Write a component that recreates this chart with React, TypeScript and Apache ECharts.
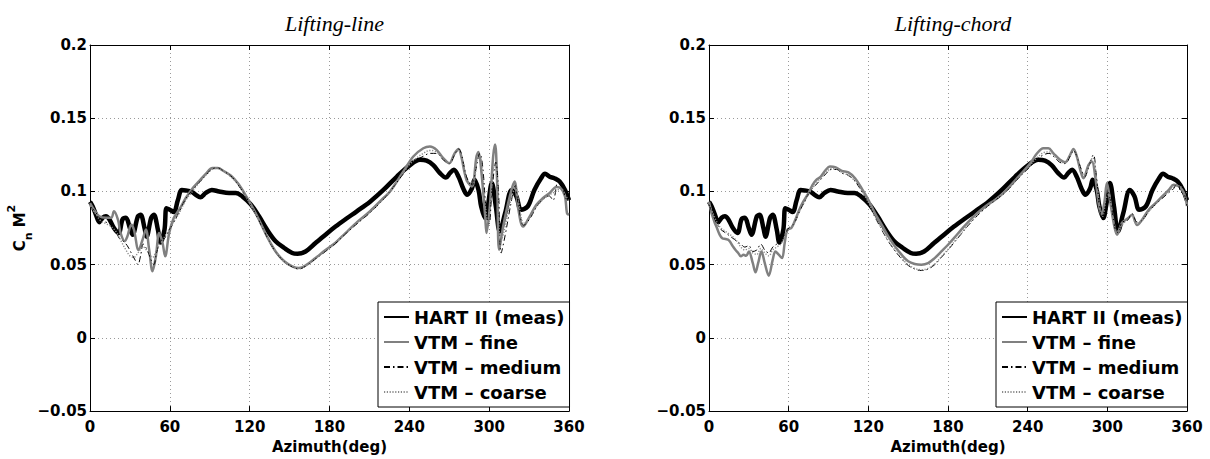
import React, { useEffect, useRef } from "react";
import * as echarts from "echarts";

// ---------- data (azimuth in deg, Cn*M^2) ----------
const HART_AZ = [0, 2, 4.5, 7, 9.5, 12, 14.5, 18, 21.5, 24.5, 27, 30, 32, 36, 38, 41, 42.5, 46, 48, 51, 53, 56, 57.5, 60, 63, 66, 69, 72, 76, 79.5, 83, 87, 91.5, 97, 104.5, 109.5, 114.5, 121, 127, 133, 139.5, 146, 152, 156, 162, 169.5, 177, 184.5, 192, 200.5, 210.5, 220.5, 230.5, 240.5, 248, 253, 258, 263, 267.5, 270.5, 273.5, 277, 280.5, 283.5, 287, 289, 292, 294, 297, 299, 302, 305, 308, 312, 317, 320.5, 324, 329, 334, 339, 342, 345.5, 349, 353, 357, 360];
const HART_CN = [0.093, 0.0898, 0.084, 0.079, 0.082, 0.083, 0.081, 0.075, 0.0716, 0.081, 0.082, 0.075, 0.0705, 0.083, 0.084, 0.075, 0.069, 0.082, 0.084, 0.074, 0.065, 0.074, 0.0886, 0.0875, 0.086, 0.094, 0.101, 0.1007, 0.1, 0.0977, 0.096, 0.099, 0.101, 0.1, 0.099, 0.099, 0.0966, 0.091, 0.083, 0.074, 0.066, 0.0614, 0.058, 0.0575, 0.059, 0.0648, 0.0705, 0.076, 0.081, 0.0864, 0.093, 0.101, 0.11, 0.118, 0.1216, 0.121, 0.118, 0.1125, 0.1095, 0.1125, 0.1148, 0.11, 0.102, 0.0977, 0.102, 0.108, 0.101, 0.0898, 0.0818, 0.0898, 0.1057, 0.0898, 0.0727, 0.0852, 0.101, 0.0966, 0.0875, 0.0898, 0.101, 0.109, 0.112, 0.11, 0.109, 0.1068, 0.101, 0.094];

// Lifting-line
const LL_FINE_AZ = [0, 3, 7, 12, 16, 18, 21, 23, 26, 28, 31, 33, 36.5, 39.5, 42, 44.5, 47, 49.5, 52, 54.5, 56.5, 59.5, 63, 67, 72, 77, 82, 87, 92, 96, 101, 106, 111, 116, 121, 127, 133, 139.5, 146, 152, 157, 163, 169.5, 177, 184.5, 192, 199.5, 210.5, 220, 225.5, 235.5, 243, 250.5, 255.5, 260.5, 265.5, 270, 274, 277, 279, 283, 287, 290.5, 292, 294, 297, 298, 300.5, 303, 304.5, 306, 307.5, 310.5, 315.5, 319, 322, 325.5, 330.5, 335.5, 340.5, 345.5, 350.5, 354, 357, 358.5, 360];
const LL_FINE_CN = [0.092, 0.0875, 0.083, 0.082, 0.082, 0.0864, 0.0807, 0.0716, 0.066, 0.069, 0.0773, 0.074, 0.06, 0.067, 0.074, 0.06, 0.0455, 0.0557, 0.0716, 0.065, 0.0557, 0.0716, 0.082, 0.0875, 0.0955, 0.102, 0.107, 0.112, 0.116, 0.116, 0.1136, 0.1107, 0.1057, 0.0989, 0.091, 0.0807, 0.0693, 0.059, 0.0523, 0.0489, 0.0477, 0.05, 0.0545, 0.06, 0.065, 0.0715, 0.078, 0.0865, 0.095, 0.1, 0.1136, 0.1239, 0.1295, 0.1307, 0.1284, 0.1227, 0.1193, 0.126, 0.129, 0.124, 0.108, 0.1034, 0.124, 0.127, 0.1148, 0.083, 0.0716, 0.0898, 0.124, 0.132, 0.1057, 0.06, 0.076, 0.0966, 0.1068, 0.0875, 0.076, 0.083, 0.091, 0.0955, 0.0989, 0.103, 0.102, 0.0966, 0.0852, 0.084];

const LL_MED_AZ = [0, 4, 8, 12, 16, 19, 22, 25, 28, 31, 34, 36, 38, 40, 43, 46, 48, 50, 53, 56, 59, 63, 67, 72, 77, 82, 87, 92, 96, 101, 106, 111, 116, 121, 127, 133, 139.5, 146, 152, 157, 163, 169.5, 177, 184.5, 192, 199.5, 210.5, 220, 225.5, 235.5, 243, 250.5, 255.5, 260.5, 265.5, 270, 274, 277, 279, 283, 287, 290, 293, 295, 298, 300, 302, 305, 307, 309, 312, 316, 319.5, 322, 326, 331, 336, 341, 345, 348, 352, 355, 358, 360];
const LL_MED_CN = [0.09, 0.086, 0.081, 0.079, 0.078, 0.074, 0.068, 0.066, 0.063, 0.058, 0.053, 0.05, 0.056, 0.064, 0.06, 0.053, 0.05, 0.058, 0.066, 0.068, 0.073, 0.079, 0.086, 0.095, 0.101, 0.106, 0.111, 0.1155, 0.116, 0.1135, 0.1105, 0.105, 0.098, 0.0905, 0.08, 0.069, 0.0585, 0.052, 0.0485, 0.047, 0.0495, 0.054, 0.059, 0.0645, 0.071, 0.077, 0.0855, 0.094, 0.1, 0.112, 0.12, 0.124, 0.126, 0.126, 0.1215, 0.119, 0.125, 0.129, 0.126, 0.11, 0.104, 0.115, 0.126, 0.118, 0.085, 0.078, 0.1, 0.12, 0.1, 0.058, 0.07, 0.09, 0.104, 0.09, 0.077, 0.082, 0.09, 0.095, 0.097, 0.094, 0.108, 0.104, 0.095, 0.095];

const LL_COARSE_AZ = [0, 4, 8, 12, 16, 20, 24, 27, 30, 33, 36, 40, 44, 47, 50, 54, 58, 62, 67, 72, 77, 82, 87, 92, 96, 101, 106, 111, 116, 121, 127, 133, 139.5, 146, 152, 157, 163, 169.5, 177, 184.5, 192, 199.5, 210.5, 220, 225.5, 235.5, 243, 250.5, 255.5, 260.5, 265.5, 270, 274, 277, 280, 284, 288, 291, 293, 296, 299, 301, 304, 306, 308.5, 311, 316, 320, 323, 326, 331, 336, 341, 346, 350, 354, 357, 360];
const LL_COARSE_CN = [0.09, 0.085, 0.08, 0.078, 0.076, 0.072, 0.065, 0.06, 0.056, 0.055, 0.058, 0.062, 0.058, 0.055, 0.06, 0.066, 0.072, 0.078, 0.085, 0.094, 0.1, 0.106, 0.111, 0.115, 0.1158, 0.1135, 0.11, 0.1052, 0.0985, 0.0905, 0.0802, 0.069, 0.0588, 0.052, 0.0487, 0.0475, 0.0498, 0.0543, 0.0598, 0.0652, 0.0715, 0.0778, 0.086, 0.0945, 0.1, 0.113, 0.121, 0.126, 0.128, 0.127, 0.122, 0.119, 0.125, 0.128, 0.122, 0.106, 0.106, 0.122, 0.124, 0.1, 0.08, 0.095, 0.118, 0.11, 0.065, 0.072, 0.093, 0.103, 0.088, 0.078, 0.083, 0.09, 0.095, 0.098, 0.1, 0.102, 0.098, 0.093];

// Lifting-chord
const LC_FINE_AZ = [0, 2, 4, 6, 8, 10, 12.5, 15, 18, 20, 22, 24, 26, 28, 30, 33, 35, 37, 39.5, 42, 45, 48, 50, 52.5, 55, 57, 59, 62, 65, 68, 71, 75, 78, 81, 84, 88, 91, 95, 100, 105, 110, 115, 120, 125, 130, 135, 140, 145, 150, 155, 160, 165, 170, 175, 180, 185, 190, 195, 200, 205, 210, 215, 220, 224, 234, 241.8, 246.8, 251.8, 255.6, 259.4, 264.4, 268.2, 272, 274.5, 277, 279.6, 282, 285.8, 288.4, 290.9, 293.4, 295.5, 297.7, 299.7, 302.3, 305.3, 307.3, 311, 316, 318.6, 322.4, 326.2, 331.2, 336.3, 341.3, 346.3, 350, 354, 357.7, 360];
const LC_FINE_CN = [0.093, 0.085, 0.0795, 0.075, 0.0705, 0.068, 0.0675, 0.0666, 0.0625, 0.06, 0.058, 0.0557, 0.0568, 0.056, 0.059, 0.051, 0.0448, 0.051, 0.059, 0.051, 0.0425, 0.0534, 0.059, 0.0568, 0.0545, 0.0648, 0.0739, 0.075, 0.0807, 0.0875, 0.093, 0.0989, 0.1045, 0.108, 0.11, 0.1148, 0.117, 0.1166, 0.114, 0.113, 0.109, 0.102, 0.0943, 0.085, 0.0773, 0.0693, 0.0625, 0.0568, 0.0523, 0.0505, 0.05, 0.0511, 0.0545, 0.059, 0.0636, 0.0686, 0.0739, 0.0789, 0.0835, 0.0875, 0.091, 0.094, 0.0975, 0.101, 0.111, 0.119, 0.1257, 0.1295, 0.1295, 0.126, 0.1216, 0.12, 0.125, 0.129, 0.124, 0.1148, 0.109, 0.118, 0.1205, 0.11, 0.092, 0.084, 0.092, 0.1057, 0.092, 0.076, 0.0705, 0.0784, 0.082, 0.084, 0.077, 0.0807, 0.0875, 0.092, 0.0966, 0.101, 0.1045, 0.1034, 0.0989, 0.09];

const LC_MED_AZ = [0, 3, 6, 9, 12, 15, 18, 21, 24, 27, 30, 33, 36, 39, 42, 45, 48, 51, 54, 57, 60, 64, 68, 72, 76, 80, 84, 88, 92, 96, 100, 105, 110, 115, 120, 125, 130, 135, 140, 145, 150, 155, 160, 165, 170, 175, 180, 185, 190, 195, 200, 205, 210, 215, 220, 224, 234, 242, 247, 252, 256, 260, 264, 268, 272, 274.5, 277, 280, 283, 286, 289.5, 291.5, 294, 296, 298.5, 300.5, 303, 306, 308, 311, 315, 318.5, 322.5, 326, 331, 336, 341, 346, 350, 353, 355, 358, 360];
const LC_MED_CN = [0.091, 0.084, 0.078, 0.074, 0.072, 0.07, 0.068, 0.066, 0.064, 0.062, 0.063, 0.059, 0.06, 0.064, 0.06, 0.058, 0.062, 0.064, 0.065, 0.07, 0.075, 0.078, 0.086, 0.093, 0.1, 0.104, 0.108, 0.112, 0.115, 0.115, 0.1125, 0.111, 0.107, 0.1, 0.092, 0.0825, 0.074, 0.066, 0.0595, 0.054, 0.0495, 0.047, 0.046, 0.047, 0.05, 0.055, 0.06, 0.0655, 0.071, 0.0765, 0.0815, 0.086, 0.09, 0.0935, 0.097, 0.1, 0.11, 0.117, 0.122, 0.125, 0.126, 0.1235, 0.12, 0.119, 0.124, 0.128, 0.124, 0.116, 0.11, 0.117, 0.125, 0.113, 0.09, 0.082, 0.09, 0.1, 0.09, 0.074, 0.072, 0.079, 0.08, 0.085, 0.079, 0.08, 0.086, 0.091, 0.095, 0.099, 0.102, 0.107, 0.1, 0.098, 0.09];

const LC_COARSE_AZ = [0, 3, 6, 9, 12, 15, 18, 21, 24, 27, 30, 33, 36, 39, 42, 45, 48, 51, 54, 57, 60, 64, 68, 72, 76, 80, 84, 88, 92, 96, 100, 105, 110, 115, 120, 125, 130, 135, 140, 145, 150, 155, 160, 165, 170, 175, 180, 185, 190, 195, 200, 205, 210, 215, 220, 224, 234, 242, 247, 252, 256, 260, 264, 268, 272, 274.5, 277, 280, 283, 286, 289, 292, 294.5, 296.5, 299, 301, 304, 307, 310, 314, 318, 322, 326, 331, 336, 341, 346, 350, 354, 358, 360];
const LC_COARSE_CN = [0.092, 0.085, 0.079, 0.075, 0.073, 0.071, 0.069, 0.066, 0.062, 0.06, 0.061, 0.058, 0.057, 0.061, 0.058, 0.056, 0.06, 0.062, 0.064, 0.069, 0.074, 0.078, 0.086, 0.093, 0.1, 0.105, 0.109, 0.113, 0.1155, 0.1155, 0.113, 0.111, 0.107, 0.1005, 0.0925, 0.083, 0.0745, 0.0665, 0.06, 0.0545, 0.05, 0.0475, 0.0465, 0.0475, 0.0505, 0.0555, 0.0605, 0.066, 0.0715, 0.077, 0.082, 0.0865, 0.0905, 0.094, 0.0975, 0.1005, 0.1105, 0.118, 0.123, 0.1265, 0.127, 0.1245, 0.121, 0.1195, 0.1245, 0.1285, 0.1245, 0.115, 0.11, 0.118, 0.123, 0.108, 0.088, 0.083, 0.095, 0.098, 0.082, 0.072, 0.076, 0.08, 0.084, 0.078, 0.08, 0.086, 0.091, 0.096, 0.1, 0.103, 0.104, 0.097, 0.091];

const SERIES_NAMES = ["HART II (meas)", "VTM \u2013 fine", "VTM \u2013 medium", "VTM \u2013 coarse"];
const TITLES = ["Lifting-line", "Lifting-chord"];
const X_NAME = "Azimuth(deg)";

const zip = (a: number[], b: number[]) => a.map((x, i) => [x, b[i]]);

const FONT = "DejaVu Sans";
const GRID_POS = [
  { left: 90, top: 45, width: 479, height: 367 },
  { left: 709, top: 45, width: 478, height: 367 },
];
const LEGEND_POS = [{ left: 378, top: 302 }, { left: 996, top: 302 }];

const LINE_STYLES: any[] = [
  { color: "#000000", width: 4.5, type: "solid" },
  { color: "#808080", width: 2.5, type: "solid" },
  { color: "#000000", width: 1, type: [6, 3, 1.5, 3] },
  { color: "#8c8c8c", width: 1.4, type: [1.2, 1.6] },
];

function yFmt(v: number) {
  const r = Math.round(v * 100) / 100;
  if (r === 0) return "0";
  return String(r).replace("-", "\u2212");
}

export default function App() {
  const ref = useRef<HTMLDivElement>(null);
  useEffect(() => {
    document.body.style.margin = "0";
    const chart = echarts.init(ref.current!, null, { renderer: "svg" });
    const data = [
      [zip(HART_AZ, HART_CN), zip(LL_FINE_AZ, LL_FINE_CN), zip(LL_MED_AZ, LL_MED_CN), zip(LL_COARSE_AZ, LL_COARSE_CN)],
      [zip(HART_AZ, HART_CN), zip(LC_FINE_AZ, LC_FINE_CN), zip(LC_MED_AZ, LC_MED_CN), zip(LC_COARSE_AZ, LC_COARSE_CN)],
    ];
    const axisLine = { show: true, onZero: false, lineStyle: { color: "#000", width: 1 } };
    const tick = { show: true, inside: true, length: 5, lineStyle: { color: "#000" } };
    const labelStyle = { fontFamily: FONT, fontWeight: "bold" as const, fontSize: 15, color: "#000" };
    const split = { show: true, lineStyle: { color: "#9a9a9a", width: 1, type: [1, 3] } };

    const xAxis: any[] = [];
    const yAxis: any[] = [];
    const series: any[] = [];
    const legend: any[] = [];
    const title: any[] = [];
    [0, 1].forEach((g) => {
      xAxis.push({
        type: "value", gridIndex: g, position: "bottom", min: 0, max: 360, interval: 60,
        axisLine, axisTick: tick, splitLine: split,
        axisLabel: { ...labelStyle, margin: 8 },
        name: X_NAME, nameLocation: "middle", nameGap: 21,
        nameTextStyle: { ...labelStyle },
      });
      xAxis.push({
        type: "value", gridIndex: g, position: "top", min: 0, max: 360, interval: 60,
        axisLine, axisTick: tick, splitLine: { show: false }, axisLabel: { show: false },
      });
      yAxis.push({
        type: "value", gridIndex: g, position: "left", min: -0.05, max: 0.2, interval: 0.05,
        axisLine, axisTick: tick, splitLine: split,
        axisLabel: { ...labelStyle, margin: 3, formatter: yFmt },
        ...(g === 0
          ? {
              name: "{c|C}{s|n}{c| M}{p|2}",
              nameLocation: "middle",
              nameRotate: 90,
              nameGap: 55,
              nameTextStyle: {
                rich: {
                  c: { fontFamily: FONT, fontWeight: "bold", fontSize: 15, color: "#000", lineHeight: 28, verticalAlign: "middle" },
                  s: { fontFamily: FONT, fontWeight: "bold", fontSize: 11, color: "#000", lineHeight: 12, verticalAlign: "bottom" },
                  p: { fontFamily: FONT, fontWeight: "bold", fontSize: 11, color: "#000", lineHeight: 12, verticalAlign: "top" },
                },
              },
            }
          : {}),
      });
      yAxis.push({
        type: "value", gridIndex: g, position: "right", min: -0.05, max: 0.2, interval: 0.05,
        axisLine, axisTick: tick, splitLine: { show: false }, axisLabel: { show: false },
      });
      SERIES_NAMES.forEach((name, i) => {
        series.push({
          type: "line", name, xAxisIndex: 2 * g, yAxisIndex: 2 * g,
          data: data[g][i], symbol: "none", showSymbol: false, smooth: 0.35,
          lineStyle: LINE_STYLES[i], itemStyle: { color: LINE_STYLES[i].color },
          z: 2 + i,
        });
      });
      legend.push({
        orient: "vertical", ...LEGEND_POS[g], data: SERIES_NAMES,
        itemWidth: 25, itemHeight: 14, itemGap: 5,
        itemStyle: { opacity: 0 },
        padding: [5, 5, 5, 5], borderColor: "#000", borderWidth: 1, backgroundColor: "#fff",
        textStyle: { fontFamily: FONT, fontWeight: "bold", fontSize: 18, lineHeight: 20, color: "#000" },
        selectedMode: false,
      });
      title.push({
        text: TITLES[g], left: GRID_POS[g].left + GRID_POS[g].width / 2, top: 7, textAlign: "center",
        textStyle: { fontFamily: "Liberation Serif", fontStyle: "italic", fontWeight: "normal", fontSize: 22, color: "#000" },
      });
    });

    chart.setOption({
      animation: false,
      backgroundColor: "#fff",
      title,
      grid: GRID_POS.map((p) => ({ ...p, containLabel: false })),
      xAxis,
      yAxis,
      legend,
      series,
    });
    return () => chart.dispose();
  }, []);
  return <div ref={ref} style={{ width: 1210, height: 459 }} />;
}
